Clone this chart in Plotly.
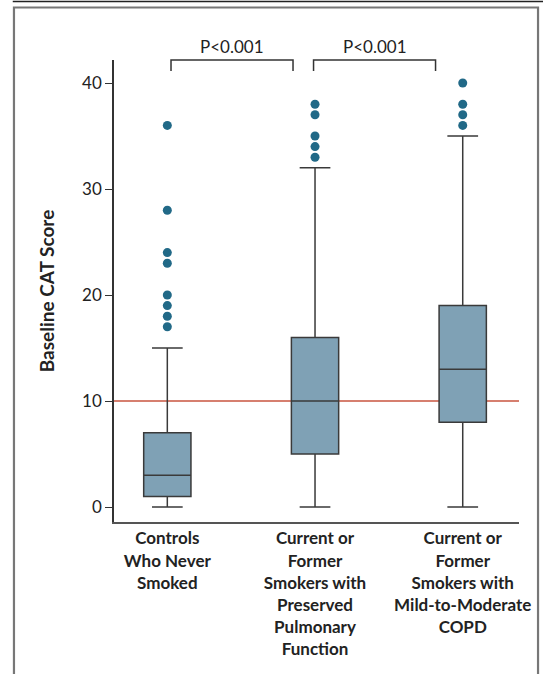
import plotly.graph_objects as go

categories = ["Controls<br>Who Never<br>Smoked",
              "Current or<br>Former<br>Smokers with<br>Preserved<br>Pulmonary<br>Function",
              "Current or<br>Former<br>Smokers with<br>Mild-to-Moderate<br>COPD"]
lower_whisker = [0, 0, 0]
q1 = [1, 5, 8]
median = [3, 10, 13]
q3 = [7, 16, 19]
upper_whisker = [15, 32, 35]
outliers = [
    [17, 18, 19, 20, 23, 24, 28, 36],
    [33, 34, 35, 37, 38],
    [36, 37, 38, 40],
]
threshold = 10
p_labels = ["P<0.001", "P<0.001"]
y_ticks = [0, 10, 20, 30, 40]

FONT = "Lato"
BOX_FILL = "#7FA1B5"
BOX_LINE = "#3a3a3a"
DOT = "#216987"

fig = go.Figure()
pos = list(range(len(categories)))
fig.add_trace(go.Box(
    x=pos, q1=q1, median=median, q3=q3,
    lowerfence=lower_whisker, upperfence=upper_whisker,
    width=0.32, whiskerwidth=0.65,
    fillcolor=BOX_FILL, line=dict(color=BOX_LINE, width=1.5),
    boxpoints=False, showlegend=False, hoverinfo="skip",
))
ox, oy = [], []
for i, vals in enumerate(outliers):
    ox += [i] * len(vals)
    oy += vals
fig.add_trace(go.Scatter(
    x=ox, y=oy, mode="markers",
    marker=dict(color=DOT, size=9, line=dict(width=0)),
    showlegend=False, hoverinfo="skip",
))

# reference line at threshold
fig.add_shape(type="line", xref="paper", yref="y", x0=0, x1=1,
              y0=threshold, y1=threshold,
              line=dict(color="#C8553F", width=1.4), layer="below")

# significance brackets
brackets = [(0.025, 0.851), (0.99, 1.816)]
for (a, b), lab in zip(brackets, p_labels):
    fig.add_shape(type="path", xref="x", yref="paper",
                  path=f"M {a},0.976 L {a},1.0 L {b},1.0 L {b},0.976",
                  line=dict(color="#333", width=1.5))
    fig.add_annotation(x=(a + b) / 2, y=1.03, xref="x", yref="paper",
                       text=lab, showarrow=False, yanchor="middle",
                       font=dict(family=FONT, size=17, color="#222"))

# frame
fig.add_shape(type="path", xref="paper", yref="paper",
              path="M -0.247,-0.35 L -0.247,1.1136 L 1.047,1.1136 L 1.047,-0.35",
              line=dict(color="#777", width=2.2))
fig.add_shape(type="line", xref="paper", yref="paper",
              x0=-0.25, x1=1.07, y0=1.1266, y1=1.1266,
              line=dict(color="#222", width=1.5))

fig.update_layout(
    width=543, height=674,
    margin=dict(l=114, r=24, t=60, b=152),
    paper_bgcolor="white", plot_bgcolor="white",
    font=dict(family=FONT, color="#222"),
    xaxis=dict(range=[-0.361, 2.381], tickmode="array", tickvals=pos,
               ticktext=[f"<b>{c}</b>" for c in categories],
               tickfont=dict(family=FONT, size=17, color="#222"),
               showline=True, linecolor="#555", linewidth=2,
               ticks="", showgrid=False, zeroline=False, fixedrange=True),
    yaxis=dict(range=[-1.415, 42.17], tickmode="array", tickvals=y_ticks,
               tickfont=dict(family=FONT, size=17, color="#222"),
               showline=True, linecolor="#333", linewidth=1.5,
               ticks="outside", ticklen=7, tickwidth=1.3, tickcolor="#333",
               showgrid=False, zeroline=False,
               title=dict(text="<b>Baseline CAT Score</b>", standoff=22,
                          font=dict(family=FONT, size=19, color="#222"))),
)

fig.write_html("out.html", config={"displayModeBar": False},
               post_script="document.body.style.margin='0';document.body.style.overflow='hidden';")
